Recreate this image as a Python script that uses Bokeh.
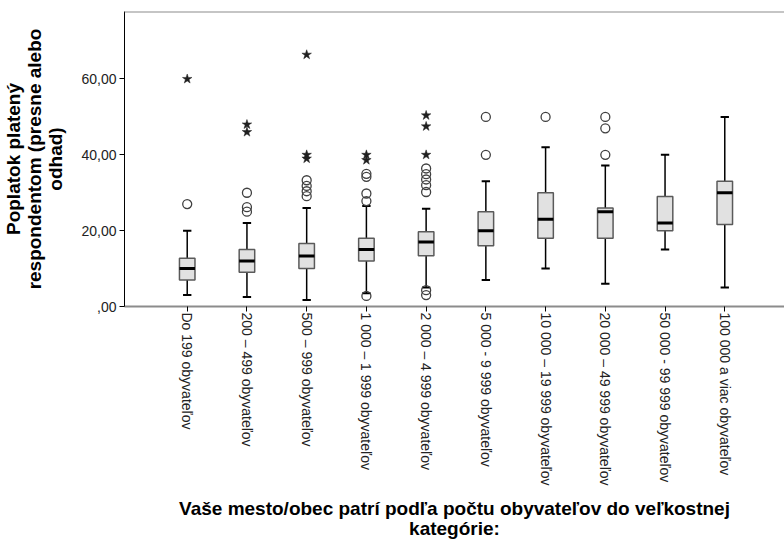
import math

from bokeh.embed import file_html
from bokeh.models import FixedTicker, Range1d, Span
from bokeh.plotting import figure
from bokeh.resources import INLINE

# Municipality size categories
categories = [
    "Do 199 obyvateľov",
    "200 – 499 obyvateľov",
    "500 – 999 obyvateľov",
    "1 000 – 1 999 obyvateľov",
    "2 000 – 4 999 obyvateľov",
    "5 000 - 9 999 obyvateľov",
    "10 000 – 19 999 obyvateľov",
    "20 000 – 49 999 obyvateľov",
    "50 000 - 99 999 obyvateľov",
    "100 000 a viac obyvateľov",
]

# Box statistics per category
whisker_low = [3.0, 2.5, 1.7, 3.5, 5.0, 7.0, 10.0, 6.0, 15.0, 5.0]
q1 = [7.0, 9.0, 10.0, 12.0, 13.4, 16.0, 18.0, 18.0, 20.0, 21.6]
median = [10.0, 12.0, 13.3, 15.0, 17.0, 20.0, 23.0, 25.0, 22.0, 30.0]
q3 = [12.7, 15.0, 16.6, 18.0, 19.7, 25.0, 30.0, 26.0, 29.0, 33.0]
whisker_high = [20.0, 22.0, 26.0, 26.5, 25.8, 33.0, 42.0, 37.2, 40.0, 50.0]

# Outliers (circles) and extreme values (stars): category index, value
outlier_cat = [1, 2, 2, 2, 3, 3, 3, 3, 4, 4, 4, 4, 4,
               5, 5, 5, 5, 5, 5, 5, 6, 6, 7, 8, 8, 8]
outlier_val = [27.0, 30.0, 26.2, 25.0, 33.3, 31.8, 30.4, 29.1, 35.0, 34.2, 29.8, 27.8, 2.8,
               36.4, 34.9, 33.5, 32.0, 30.2, 4.3, 3.0, 50.0, 40.0, 50.0, 50.0, 47.0, 40.0]
extreme_cat = [1, 2, 2, 3, 3, 3, 4, 4, 5, 5, 5]
extreme_val = [60.0, 48.0, 46.0, 66.4, 40.0, 39.0, 40.0, 38.6, 50.4, 47.5, 40.0]

y_ticks = [0, 20, 40, 60]
y_tick_labels = [",00", "20,00", "40,00", "60,00"]

y_title = "Poplatok platený\nrespondentom (presne alebo\nodhad)"
x_title = "Vaše mesto/obec patrí podľa počtu obyvateľov do veľkostnej\nkategórie:"

positions = list(range(1, len(categories) + 1))
y_top = 77.8

p = figure(
    width=784, height=542,
    output_backend="svg", toolbar_location=None,
    x_range=Range1d(-0.05, 11.0), y_range=Range1d(0, y_top),
    min_border_left=122, min_border_right=0,
    min_border_top=11, min_border_bottom=235,
)
p.outline_line_color = None
p.xgrid.visible = False
p.ygrid.visible = False
p.background_fill_color = "white"

# top frame line
p.add_layout(Span(location=y_top, dimension="width", line_color="#8c8c8c", line_width=2))

box_half = 0.13
cap_half = 0.07

# whiskers
p.segment(x0=positions, x1=positions, y0=q3, y1=whisker_high, line_color="black", line_width=1.5)
p.segment(x0=positions, x1=positions, y0=q1, y1=whisker_low, line_color="black", line_width=1.5)
# whisker caps
p.segment(x0=[x - cap_half for x in positions], x1=[x + cap_half for x in positions],
          y0=whisker_high, y1=whisker_high, line_color="black", line_width=2)
p.segment(x0=[x - cap_half for x in positions], x1=[x + cap_half for x in positions],
          y0=whisker_low, y1=whisker_low, line_color="black", line_width=2)
# boxes
p.vbar(x=positions, width=2 * box_half, bottom=q1, top=q3,
       fill_color="#e1e1e1", line_color="#5a5a5a", line_width=1.5)
# medians
p.segment(x0=[x - box_half for x in positions], x1=[x + box_half for x in positions],
          y0=median, y1=median, line_color="black", line_width=3)

# outliers
p.scatter(x=outlier_cat, y=outlier_val, marker="circle", size=9,
          fill_color=None, line_color="#404040", line_width=1.3)
p.scatter(x=extreme_cat, y=extreme_val, marker="star", size=10,
          fill_color="#202020", line_color="#202020", line_width=0.5)

# y axis
ya = p.yaxis[0]
ya.ticker = FixedTicker(ticks=y_ticks)
ya.major_label_overrides = dict(zip(y_ticks, y_tick_labels))
ya.minor_tick_line_color = None
ya.major_tick_out = 5
ya.major_tick_in = 0
ya.axis_line_color = "black"
ya.major_tick_line_color = "black"
ya.major_label_text_font = "Liberation Sans"
ya.major_label_text_font_size = "14px"
ya.major_label_text_color = "#222222"
ya.major_label_standoff = 3
ya.axis_label = y_title
ya.axis_label_text_font = "Liberation Sans"
ya.axis_label_text_font_style = "bold"
ya.axis_label_text_font_size = "19px"
ya.axis_label_text_line_height = 1.0
ya.axis_label_text_color = "black"
ya.axis_label_standoff = 12

# x axis
xa = p.xaxis[0]
xa.ticker = FixedTicker(ticks=positions)
xa.major_label_overrides = dict(zip(positions, categories))
xa.major_label_orientation = -math.pi / 2
xa.minor_tick_line_color = None
xa.major_tick_out = 5
xa.major_tick_in = 0
xa.axis_line_color = "#8c8c8c"
xa.axis_line_width = 2
xa.major_tick_line_color = "black"
xa.major_label_text_font = "Liberation Sans"
xa.major_label_text_font_size = "14px"
xa.major_label_text_color = "#222222"
xa.major_label_standoff = 1
xa.axis_label = x_title
xa.axis_label_text_font = "Liberation Sans"
xa.axis_label_text_font_style = "bold"
xa.axis_label_text_font_size = "19px"
xa.axis_label_text_line_height = 0.95
xa.axis_label_text_color = "black"
xa.axis_label_standoff = 10

open("out.html", "w").write(file_html(p, INLINE))
